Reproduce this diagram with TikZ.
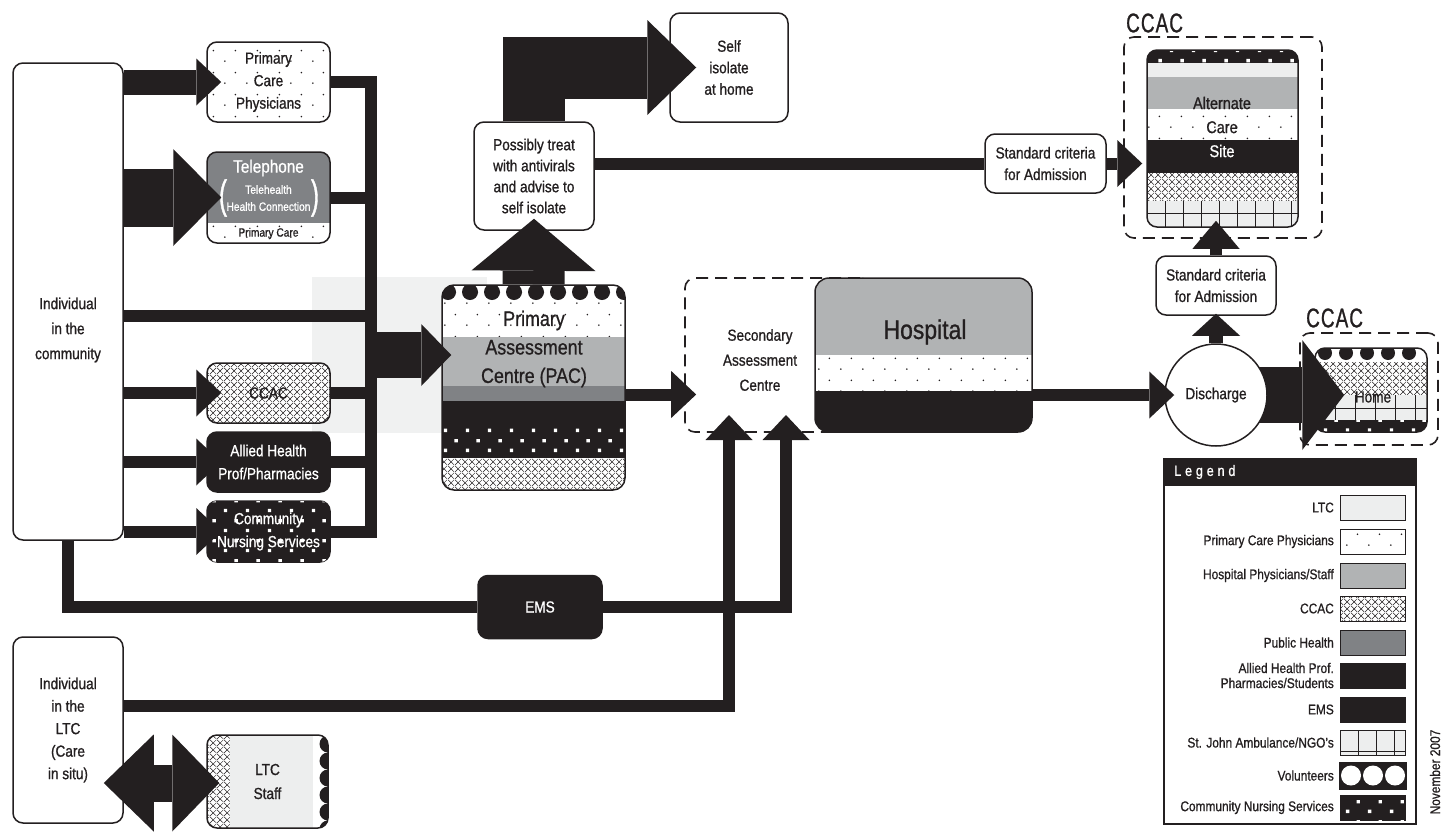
\documentclass[tikz,border=0pt]{standalone}
\usepackage{fontspec}
\setmainfont[FakeStretch=0.85, FakeBold=0.9]{Liberation Sans}
\usetikzlibrary{arrows.meta,calc,patterns.meta}

\definecolor{inkblk}{HTML}{231F20}
\definecolor{hospgray}{HTML}{B1B3B4}
\definecolor{pubgray}{HTML}{808285}
\definecolor{ltcgray}{HTML}{EDEEEE}
\definecolor{bggray}{HTML}{F0F1F1}

% sector textures
\tikzdeclarepattern{
  name=pcpdots, type=uncolored,
  bounding box={(0pt,0pt) and (22pt,22pt)},
  tile size={(22pt,22pt)},
  code={
    \fill (5pt,5pt) circle (0.9pt);
    \fill (16pt,16pt) circle (0.9pt);
  }
}
\tikzdeclarepattern{
  name=xhatch, type=uncolored,
  bounding box={(0pt,0pt) and (7pt,7pt)},
  tile size={(7pt,7pt)},
  code={
    \draw[line width=0.5pt] (0pt,0pt) -- (7pt,7pt);
    \draw[line width=0.5pt] (0pt,7pt) -- (7pt,0pt);
  }
}
\tikzdeclarepattern{
  name=cnsquares, type=uncolored,
  bounding box={(0pt,0pt) and (22pt,20pt)},
  tile size={(22pt,20pt)},
  code={
    \fill (4pt,4pt) rectangle (7.5pt,7.5pt);
    \fill (15pt,14pt) rectangle (18.5pt,17.5pt);
  }
}

\begin{document}
\begin{tikzpicture}[
  x=1pt, y=-1pt,
  font=\fontsize{16}{21.5}\selectfont,
  box/.style={draw=inkblk, line width=1.5pt, rounded corners=10pt, align=center,
    inner sep=0pt, text=inkblk},
  cage/.style={draw=inkblk, line width=1.6pt, rounded corners=10pt,
    dash pattern=on 12pt off 7pt, inner sep=0pt},
  lbl/.style={align=center, inner sep=0pt, text=inkblk},
  bigcap/.style={font=\fontsize{27}{27}\selectfont\addfontfeatures{FakeStretch=0.7,LetterSpace=4}},
  pcpfill/.style={fill=white, postaction={pattern=pcpdots, pattern color=inkblk}},
  ccacfill/.style={fill=white, postaction={pattern=xhatch, pattern color=inkblk}},
  cnsfill/.style={fill=inkblk, postaction={pattern=cnsquares, pattern color=white}},
  bar/.style={draw=inkblk, line width=12pt},
  arrS/.style={bar, -{Triangle[width=47pt,length=25pt,line width=0pt]}},
  swatch/.style={draw=inkblk, line width=1.2pt, minimum width=65pt,
    minimum height=25pt, inner sep=0pt, anchor=north west},
  lglab/.style={anchor=east, align=right, inner sep=0pt, text=inkblk,
    font=\fontsize{14}{15}\selectfont}
]
\useasboundingbox (0,0) rectangle (1449,836);

% tint behind the collector
\fill[bggray] (312,277) rectangle (487,433);

% ── Individuals ───────────────────────────────────────────────────────────
\node[box, minimum width=110pt, minimum height=477pt] (indc) at (68,301.5) {};
\node[lbl, font=\fontsize{16}{25}\selectfont] (indctxt) at (68,330)
  {Individual\\in the\\community};
\node[box, minimum width=110pt, minimum height=186pt,
  font=\fontsize{16}{22.5}\selectfont] (ltci) at (68,730)
  {Individual\\in the\\LTC\\(Care\\in situ)};

% ── Entry points ──────────────────────────────────────────────────────────
\node[box, pcpfill, minimum width=123pt, minimum height=80pt,
  font=\fontsize{16}{22.5}\selectfont] (pcp) at (268.5,82)
  {Primary\\Care\\Physicians};

\begin{scope}
  \clip[rounded corners=10pt] (207,152) rectangle (330,243);
  \fill[pubgray] (207,152) rectangle (330,223);
  \fill[pcpfill] (207,223) rectangle (330,243);
\end{scope}
\node[box, minimum width=123pt, minimum height=91pt] (tel) at (268.5,197.5) {};
\node[lbl, text=white, font=\fontsize{18}{18}\selectfont] (teltitle)
  at (268.5,168) {Telephone};
\node[lbl, text=white, font=\fontsize{12}{17}\selectfont] (telsub)
  at (268.5,198) {Telehealth\\Health Connection};
\node[lbl, text=white, font=\fontsize{40}{40}\selectfont\addfontfeatures{FakeStretch=0.6}]
  (parl) at (223,198) {(};
\node[lbl, text=white, font=\fontsize{40}{40}\selectfont\addfontfeatures{FakeStretch=0.6}]
  (parr) at (315,198) {)};
\node[lbl, font=\fontsize{12}{12}\selectfont] (telpc) at (268.5,233.5) {Primary Care};

\node[box, ccacfill, minimum width=123pt, minimum height=60pt] (ccacl)
  at (268.5,393) {CCAC};
\node[box, fill=inkblk, text=white, minimum width=123pt, minimum height=60pt,
  font=\fontsize{16}{23}\selectfont] (ahp) at (268.5,462)
  {Allied Health\\Prof/Pharmacies};
\node[box, cnsfill, text=white, minimum width=123pt, minimum height=61pt,
  font=\fontsize{16}{23}\selectfont] (cns) at (268.5,531.5)
  {Community\\Nursing Services};

% ── Primary Assessment Centre ─────────────────────────────────────────────
\begin{scope}
  \clip[rounded corners=12pt] (442,285) rectangle (625,490);
  \fill[pcpfill] (442,285) rectangle (625,337);
  \foreach \cx in {448,470,...,626} \fill[inkblk] (\cx,292) circle (8);
  \fill[hospgray] (442,337) rectangle (625,386);
  \fill[pubgray] (442,386) rectangle (625,401);
  \fill[inkblk] (442,401) rectangle (625,427);
  \fill[cnsfill] (442,427) rectangle (625,458);
  \fill[ccacfill] (442,458) rectangle (625,490);
\end{scope}
\node[box, rounded corners=12pt, minimum width=183pt, minimum height=205pt]
  (pac) at (533.5,387.5) {};
\node[lbl, font=\fontsize{21}{28.5}\selectfont] (pactxt) at (534,349)
  {Primary\\Assessment\\Centre (PAC)};

\node[box, fill=white, minimum width=120pt, minimum height=108pt,
  font=\fontsize{16}{21}\selectfont] (poss) at (534,176)
  {Possibly treat\\with antivirals\\and advise to\\self isolate};
\node[box, fill=white, minimum width=118pt, minimum height=109pt] (self)
  at (729,67.5) {Self\\isolate\\at home};

% ── Secondary assessment and hospital ─────────────────────────────────────
\node[cage, minimum width=185pt, minimum height=154pt] (sac) at (777.5,355) {};
\node[lbl, font=\fontsize{16}{25}\selectfont] (sactxt) at (760,360)
  {Secondary\\Assessment\\Centre};

\begin{scope}
  \clip[rounded corners=14pt] (815,278) rectangle (1032,432);
  \fill[hospgray] (815,278) rectangle (1032,355);
  \fill[pcpfill] (815,355) rectangle (1032,391);
  \fill[inkblk] (815,391) rectangle (1032,432);
\end{scope}
\node[box, rounded corners=14pt, minimum width=217pt, minimum height=154pt]
  (hosp) at (923.5,355) {};
\node[lbl, font=\fontsize{27}{27}\selectfont] (hosptxt) at (925,332) {Hospital};

\node[box, fill=inkblk, text=white, minimum width=124pt, minimum height=63pt]
  (ems) at (540,607) {EMS};

% ── Alternate care site (CCAC) ────────────────────────────────────────────
\node[box, fill=white, minimum width=121pt, minimum height=59pt] (std1)
  at (1045.5,163.5) {Standard criteria\\for Admission};
\node[cage, minimum width=198pt, minimum height=201pt] (ccacA) at (1223,137.5) {};
\node[lbl, anchor=west, bigcap] (ccacAtxt) at (1126,23) {CCAC};
\begin{scope}
  \clip[rounded corners=10pt] (1147,50) rectangle (1298,227);
  \fill[cnsfill] (1147,50) rectangle (1298,63);
  \fill[ltcgray] (1147,63) rectangle (1298,77);
  \fill[hospgray] (1147,77) rectangle (1298,109);
  \fill[pcpfill] (1147,109) rectangle (1298,140);
  \fill[inkblk] (1147,140) rectangle (1298,173);
  \fill[ccacfill] (1147,173) rectangle (1298,201);
  \fill[ltcgray] (1147,201) rectangle (1298,227);
  \foreach \gx in {1165,1183,...,1297}
    \draw[inkblk, line width=0.8pt] (\gx,201) -- (\gx,227);
  \draw[inkblk, line width=0.8pt] (1147,213) -- (1298,213);
\end{scope}
\node[box, minimum width=151pt, minimum height=177pt] (alt) at (1222.5,138.5) {};
\node[lbl, font=\fontsize{17}{24}\selectfont] (alttxt) at (1222,127)
  {Alternate\\Care\\\textcolor{white}{Site}};

\node[box, fill=white, minimum width=120pt, minimum height=59pt] (std2)
  at (1216,285.5) {Standard criteria\\for Admission};

% ── Home (CCAC) ───────────────────────────────────────────────────────────
\node[cage, minimum width=138pt, minimum height=112pt] (ccacB) at (1369,389) {};
\node[lbl, anchor=west, bigcap] (ccacBtxt) at (1306,318) {CCAC};
\begin{scope}
  \clip[rounded corners=10pt] (1315,348) rectangle (1427,432);
  \fill[white] (1315,348) rectangle (1427,362);
  \fill[ccacfill] (1315,362) rectangle (1427,395);
  \foreach \cx in {1325,1346,...,1427} \fill[inkblk] (\cx,353) circle (7);
  \fill[ltcgray] (1315,395) rectangle (1427,420);
  \foreach \gx in {1335,1355,...,1425}
    \draw[inkblk, line width=0.8pt] (\gx,395) -- (\gx,420);
  \draw[inkblk, line width=0.8pt] (1315,408) -- (1427,408);
  \fill[cnsfill] (1315,420) rectangle (1427,432);
\end{scope}
\node[box, minimum width=112pt, minimum height=84pt] (home) at (1371,390) {};
\node[lbl] (hometxt) at (1373,397) {Home};

% ── LTC staff ─────────────────────────────────────────────────────────────
\begin{scope}
  \clip[rounded corners=10pt] (207,735) rectangle (328,828);
  \fill[ccacfill] (207,735) rectangle (230,828);
  \fill[ltcgray] (230,735) rectangle (313,828);
  \fill[white] (313,735) rectangle (328,828);
  \foreach \cy in {744,761,...,830} \fill[inkblk] (328,\cy) circle (8.5);
\end{scope}
\node[box, minimum width=121pt, minimum height=93pt,
  font=\fontsize{16}{24}\selectfont] (staff) at (267.5,781.5) {LTC\\Staff};

% ── Arrows from the community ─────────────────────────────────────────────
\draw[arrS, line width=25pt] (indc.east |- pcp) -- ($(pcp.west)+(15,0)$);
\draw[bar, line width=58pt, -{Triangle[width=97pt,length=48pt,line width=0pt]}]
  (indc.east |- tel) -- ($(tel.west)+(15,0)$);
\draw[arrS] (indc.east |- ccacl) -- ($(ccacl.west)+(15,0)$);
\draw[arrS] (indc.east |- ahp) -- ($(ahp.west)+(15,0)$);
\draw[arrS] (indc.east |- cns) -- ($(cns.west)+(15,0)$);

% ── Collector into the PAC ────────────────────────────────────────────────
\coordinate (colltop) at (371,82);
\coordinate (commjoin) at (371,316);
\coordinate (pacin) at (365,355);
\draw[bar] (pcp.east) -| (colltop |- cns) -- (cns.east);
\draw[bar] (tel.east) -- (tel.east -| colltop);
\draw[bar] (indc.east |- commjoin) -- (commjoin);
\draw[bar] (ccacl.east) -- (ccacl.east -| colltop);
\draw[bar] (ahp.east) -- (ahp.east -| colltop);
\draw[bar, line width=46pt, -{Triangle[width=62pt,length=30pt,line width=0pt]}]
  (pacin) -- ($(pac.west |- pacin)+(10,0)$);

% ── Out of the PAC ────────────────────────────────────────────────────────
\draw[bar, line width=62pt, -{Triangle[width=124pt,length=52pt,line width=0pt]}]
  (pac.north) -- ($(poss.south)+(0,-12)$);
\draw[bar, line width=62pt, -{Triangle[width=95pt,length=49pt,line width=0pt]}]
  (poss.north) |- ($(self.west)+(27,0)$);
\draw[bar] (poss.east |- std1) -- (std1.west);
\draw[arrS] (std1.east) -- ($(alt.west |- std1)+(-4,0)$);
\draw[arrS] ($(pac.east)+(0,7)$) -- ($(sac.west |- pac.east)+(12,7)$);

% ── Into the secondary assessment centre ──────────────────────────────────
\coordinate (sacinA) at (729,415);
\coordinate (sacinB) at (786,415);
\draw[bar] (indc.south) |- (ems.west);
\draw[arrS] (ems.east) -| (sacinB);
\draw[arrS] ($(ltci.east)+(0,-24)$) -| (sacinA);

% ── Discharge ─────────────────────────────────────────────────────────────
\coordinate (disc) at (1216,395);
\draw[bar, line width=56pt, -{Triangle[width=110pt,length=42pt,line width=0pt]}]
  (disc) -- ($(home.west |- disc)+(30,0)$);
\node[box, circle, fill=white, minimum size=102pt] (dis) at (disc) {Discharge};
\draw[arrS] (hosp.east |- dis) -- ($(dis.west)+(10,0)$);
\draw[bar, line width=14pt, -{Triangle[width=48pt,length=22pt,line width=0pt]}]
  (dis.north) -- ($(std2.south)+(0,-2)$);
\draw[bar, -{Triangle[width=47pt,length=28pt,line width=0pt]}]
  (std2.north) -- ($(std2.north |- alt.south)+(0,-7)$);

% ── Care in situ ──────────────────────────────────────────────────────────
\draw[bar, line width=37pt,
  {Triangle[width=97pt,length=50pt,line width=0pt]}-{Triangle[width=97pt,length=47pt,line width=0pt]}]
  ($(ltci.east |- staff)+(-20,1.5)$) -- ($(staff.west)+(13,1.5)$);

% ── Legend ────────────────────────────────────────────────────────────────
\node[draw=inkblk, line width=1.5pt, minimum width=252pt, minimum height=365pt,
  inner sep=0pt, anchor=north west] (legend) at (1163,458) {};
\fill[inkblk] (legend.north west) rectangle ($(legend.north east)+(0,28)$);
\node[lbl, anchor=west, text=white,
  font=\fontsize{15}{15}\selectfont\addfontfeatures{LetterSpace=25}]
  (legendtitle) at (1174,472) {Legend};

\node[swatch, fill=ltcgray] (swltc) at (1340,495) {};
\node[swatch, pcpfill] (swpcp) at (1340,529) {};
\node[swatch, fill=hospgray] (swhosp) at (1340,563) {};
\node[swatch, ccacfill] (swccac) at (1340,596) {};
\node[swatch, fill=pubgray] (swph) at (1340,630) {};
\node[swatch, fill=inkblk] (swahp) at (1340,663) {};
\node[swatch, fill=inkblk] (swems) at (1340,697) {};
\node[swatch, fill=ltcgray] (swsj) at (1340,730) {};
\node[swatch, fill=inkblk] (swvol) at (1340,763) {};
\node[swatch, cnsfill] (swcns) at (1340,795) {};
\foreach \gx in {1358,1376,1394}
  \draw[inkblk, line width=0.9pt] (\gx,730) -- (\gx,755);
\draw[inkblk, line width=0.9pt] (swsj.west |- 0,751) -- (swsj.east |- 0,751);
\begin{scope}
  \clip (swvol.north west) rectangle (swvol.south east);
  \foreach \cx in {1351,1373,1395} \fill[white] (\cx,775.5) circle (10);
\end{scope}
\draw[inkblk, line width=1.2pt] (swvol.north west) rectangle (swvol.south east);

\node[lglab] (lgltc) at (1334,507.5) {LTC};
\node[lglab] (lgpcp) at (1334,541.5) {Primary Care Physicians};
\node[lglab] (lghosp) at (1334,575.5) {Hospital Physicians/Staff};
\node[lglab] (lgccac) at (1334,608.5) {CCAC};
\node[lglab] (lgph) at (1334,642.5) {Public Health};
\node[lglab] (lgahp) at (1334,675.5) {Allied Health Prof.\\Pharmacies/Students};
\node[lglab] (lgems) at (1334,709.5) {EMS};
\node[lglab] (lgsj) at (1334,742.5) {St. John Ambulance/NGO's};
\node[lglab] (lgvol) at (1334,775.5) {Volunteers};
\node[lglab] (lgcns) at (1334,807.5) {Community Nursing Services};

\node[lbl, rotate=90, font=\fontsize{14}{14}\selectfont] (stamp) at (1435,772)
  {November 2007};

\end{tikzpicture}
\end{document}
